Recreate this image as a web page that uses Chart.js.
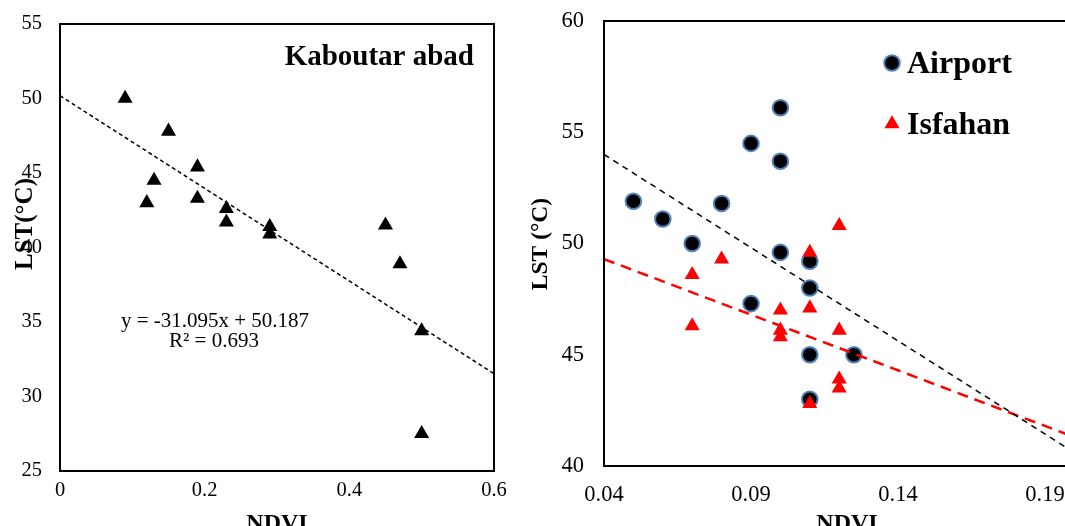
<!DOCTYPE html>
<html>
<head>
<meta charset="utf-8">
<script src="https://cdn.jsdelivr.net/npm/chart.js@4.4.1/dist/chart.umd.min.js"></script>
<style>
  html, body { margin: 0; padding: 0; background: #fff; overflow: hidden; width: 1065px; height: 526px; }
  #left { position: absolute; left: 0; top: 0; }
  #right { position: absolute; left: 530px; top: 0; }
</style>
</head>
<body>
<canvas id="left" width="530" height="545"></canvas>
<canvas id="right" width="700" height="545"></canvas>
<script>
// Kaboutar abad
var kabX = [0.09, 0.15, 0.19, 0.13, 0.12, 0.19, 0.23, 0.23, 0.29, 0.29, 0.45, 0.47, 0.50, 0.50];
var kabY = [50.0, 47.8, 45.4, 44.5, 43.0, 43.3, 42.6, 41.7, 41.4, 40.9, 41.5, 38.9, 34.4, 27.5];
var kabTrendX = [0, 0.6];
var kabTrendY = [50.187, 31.53];
var kabTicksX = [0, 0.2, 0.4, 0.6];
var kabLabelsX = ['0', '0.2', '0.4', '0.6'];
var kabTicksY = [25, 30, 35, 40, 45, 50, 55];

// Airport / Isfahan
var airX = [0.05, 0.06, 0.07, 0.08, 0.09, 0.10, 0.10, 0.10, 0.09, 0.11, 0.11, 0.11, 0.125, 0.11];
var airY = [51.9, 51.1, 50.0, 51.8, 54.5, 56.1, 53.7, 49.6, 47.3, 49.2, 48.0, 45.0, 45.0, 43.0];
var isfX = [0.07, 0.07, 0.08, 0.10, 0.10, 0.10, 0.11, 0.11, 0.11, 0.12, 0.12, 0.12, 0.12];
var isfY = [48.6, 46.3, 49.3, 47.0, 46.1, 45.8, 49.6, 47.1, 42.8, 50.8, 46.1, 43.9, 43.5];
var trendX = [0.04, 0.2];
var airTrendY = [54.0, 40.6];
var isfTrendY = [49.3, 41.3];
var ticksX = [0.04, 0.09, 0.14, 0.19, 0.24];
var labelsX = ['0.04', '0.09', '0.14', '0.19', '0.24'];
var ticksY = [40, 45, 50, 55, 60];

var serif = "'Liberation Serif', 'Times New Roman', serif";

function pts(xs, ys) {
  return xs.map(function (x, i) { return { x: x, y: ys[i] }; });
}

// box around plot area + free texts + legend
var frame = {
  id: 'frame',
  afterDraw: function (chart, args, opts) {
    var ctx = chart.ctx, a = chart.chartArea;
    ctx.save();
    ctx.strokeStyle = '#000';
    ctx.lineWidth = 2;
    ctx.strokeRect(a.left, a.top, a.right - a.left, a.bottom - a.top);
    ctx.fillStyle = '#000';
    (opts.texts || []).forEach(function (t) {
      ctx.save();
      ctx.font = t.font + ' ' + serif;
      ctx.textAlign = t.align || 'center';
      ctx.textBaseline = t.base || 'alphabetic';
      ctx.translate(t.x, t.y);
      if (t.rot) ctx.rotate(t.rot);
      ctx.fillText(t.text, 0, 0);
      ctx.restore();
    });
    (opts.legend || []).forEach(function (l) {
      var ds = chart.data.datasets[l.ds];
      ctx.save();
      ctx.beginPath();
      if (ds.pointStyle == 'circle') {
        ctx.arc(l.x, l.y, ds.pointRadius, 0, Math.PI * 2);
        ctx.fillStyle = ds.backgroundColor;
        ctx.fill();
        ctx.lineWidth = ds.borderWidth;
        ctx.strokeStyle = ds.borderColor;
        ctx.stroke();
      } else {
        var r = ds.pointRadius;
        ctx.moveTo(l.x, l.y - r);
        ctx.lineTo(l.x + r * 0.866, l.y + r / 2);
        ctx.lineTo(l.x - r * 0.866, l.y + r / 2);
        ctx.closePath();
        ctx.fillStyle = ds.backgroundColor;
        ctx.fill();
      }
      ctx.fillStyle = '#000';
      ctx.font = 'bold 32px ' + serif;
      ctx.textAlign = 'left';
      ctx.textBaseline = 'alphabetic';
      ctx.fillText(ds.label, l.x + 15, l.y + 10);
      ctx.restore();
    });
    ctx.restore();
  }
};

// fixed size for the y axis, no extra room for the labels
function fixY(w) {
  return function (s) {
    s.width = w;
    s.paddingTop = 0;
    s.paddingBottom = 0;
  };
}

//grafico sinistra
new Chart(document.getElementById('left'), {
  type: 'scatter',
  data: {
    datasets: [{
      label: 'trend',
      data: pts(kabTrendX, kabTrendY),
      showLine: true,
      borderColor: '#000',
      borderWidth: 1.5,
      borderDash: [4, 3],
      pointRadius: 0,
      order: 0
    }, {
      label: 'Kaboutar abad',
      data: pts(kabX, kabY),
      pointStyle: 'triangle',
      pointRadius: 8.7,
      backgroundColor: '#000',
      borderWidth: 0,
      order: 1
    }]
  },
  options: {
    responsive: false,
    animation: false,
    events: [],
    layout: { padding: { top: 24, right: 36, left: 0, bottom: 0 } },
    plugins: {
      legend: { display: false },
      tooltip: { enabled: false },
      frame: {
        texts: [
          { text: 'Kaboutar abad', font: 'bold 29px', x: 474, y: 65, align: 'right' },
          { text: 'y = -31.095x + 50.187', font: '21px', x: 215, y: 327 },
          { text: 'R\u00b2 = 0.693', font: '21px', x: 214, y: 347 },
          { text: 'LST(\u00b0C)', font: 'bold 25px', x: 26, y: 224, rot: -Math.PI / 2, base: 'middle' },
          { text: 'NDVI', font: 'bold 24px', x: 277, y: 530 }
        ]
      }
    },
    scales: {
      x: {
        type: 'linear', min: 0, max: 0.6,
        grid: { display: false, drawTicks: false },
        border: { display: false },
        afterBuildTicks: function (s) { s.ticks = kabTicksX.map(function (v) { return { value: v }; }); },
        afterFit: function (s) { s.height = 74; },
        ticks: {
          padding: 7, color: '#000', maxRotation: 0, autoSkip: false,
          font: { family: serif, size: 20.5 },
          callback: function (v, i) { return kabLabelsX[i]; }
        }
      },
      y: {
        min: 25, max: 55,
        grid: { display: false, drawTicks: false },
        border: { display: false },
        afterBuildTicks: function (s) { s.ticks = kabTicksY.map(function (v) { return { value: v }; }); },
        afterFit: fixY(60),
        ticks: { padding: 18, color: '#000', font: { family: serif, size: 20.5 } }
      }
    }
  },
  plugins: [frame]
});

//grafico destra
new Chart(document.getElementById('right'), {
  type: 'scatter',
  data: {
    datasets: [{
      label: 'trend Airport',
      data: pts(trendX, airTrendY),
      showLine: true,
      borderColor: '#000',
      borderWidth: 1.5,
      borderDash: [6, 5],
      pointRadius: 0,
      order: 0
    }, {
      label: 'trend Isfahan',
      data: pts(trendX, isfTrendY),
      showLine: true,
      borderColor: '#ff0000',
      borderWidth: 2.5,
      borderDash: [11, 7],
      pointRadius: 0,
      order: 0
    }, {
      label: 'Airport',
      data: pts(airX, airY),
      pointStyle: 'circle',
      pointRadius: 7.8,
      backgroundColor: '#000',
      borderColor: '#4f81bd',
      borderWidth: 2,
      order: 2
    }, {
      label: 'Isfahan',
      data: pts(isfX, isfY),
      pointStyle: 'triangle',
      pointRadius: 8.7,
      backgroundColor: '#ff0000',
      borderWidth: 0,
      order: 1
    }]
  },
  options: {
    responsive: false,
    animation: false,
    events: [],
    layout: { padding: { top: 21, right: 38, left: 0, bottom: 0 } },
    plugins: {
      legend: { display: false },
      tooltip: { enabled: false },
      frame: {
        texts: [
          { text: 'LST (\u00b0C)', font: 'bold 23.5px', x: 11, y: 244, rot: -Math.PI / 2, base: 'middle' },
          { text: 'NDVI', font: 'bold 24px', x: 317, y: 530 }
        ],
        legend: [
          { ds: 2, x: 362, y: 63 },
          { ds: 3, x: 362, y: 124 }
        ]
      }
    },
    scales: {
      x: {
        type: 'linear', min: 0.04, max: 0.24,
        grid: { display: false, drawTicks: false },
        border: { display: false },
        afterBuildTicks: function (s) { s.ticks = ticksX.map(function (v) { return { value: v }; }); },
        afterFit: function (s) { s.height = 79; },
        ticks: {
          padding: 16, color: '#000', maxRotation: 0, autoSkip: false,
          font: { family: serif, size: 22.5 },
          callback: function (v, i) { return labelsX[i]; }
        }
      },
      y: {
        min: 40, max: 60,
        grid: { display: false, drawTicks: false },
        border: { display: false },
        afterBuildTicks: function (s) { s.ticks = ticksY.map(function (v) { return { value: v }; }); },
        afterFit: fixY(74),
        ticks: { padding: 20, color: '#000', font: { family: serif, size: 22.5 } }
      }
    }
  },
  plugins: [frame]
});
</script>
</body>
</html>
